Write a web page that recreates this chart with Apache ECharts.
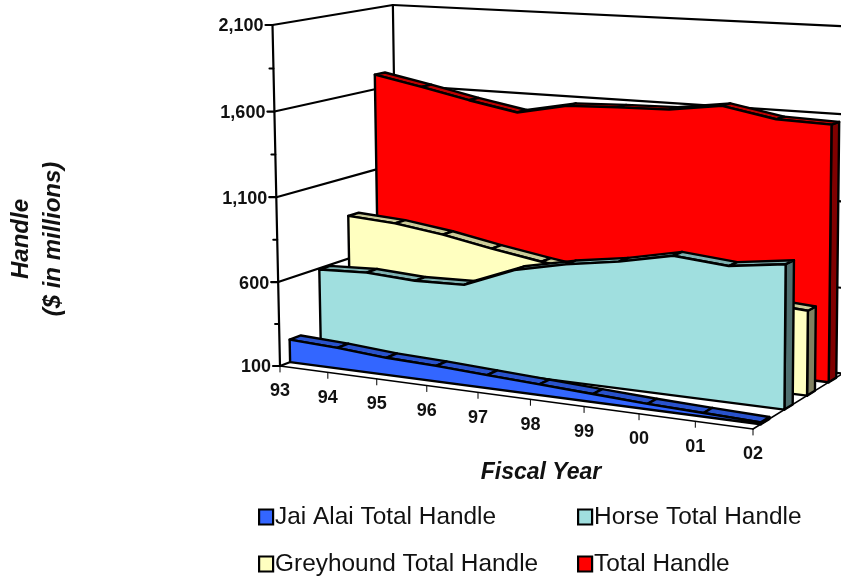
<!DOCTYPE html>
<html>
<head>
<meta charset="utf-8">
<style>html,body{margin:0;padding:0;background:#fff}#c{width:841px;height:581px}</style>
<script src="https://cdn.jsdelivr.net/npm/echarts@6/dist/echarts.min.js"></script>
</head>
<body>
<div id="c"></div>
<script>
const years = ['93','94','95','96','97','98','99','00','01','02'];
const yTicks = [100,600,1100,1600,2100];
const yMinorTicks = [350,850,1350,1850];
const jaiAlai   = [235,222,200,190,175,160,145,130,120,110];
const horse     = [593,605,588,596,714,778,824,888,861,902];
const greyhound = [863,845,805,750,702,660,635,620,600,580];
const totalH    = [1690,1633,1571,1517,1577,1588,1595,1637,1581,1572];

const FONT = '"Liberation Sans", Arial, sans-serif';
const G = {left:272, top:25, width:480, height:341};
// camera: projective map from the unit box (X years, Y value, Z depth) to the page
const CAM = {
  x:[280, 397.7, -12.95, 150.3],
  y:[366, 20.1, -341.5, -19.2],
  w:[1, -0.10, -0.02, 0.0823]
};
function project(pt, Z){
  const X=(pt[0]-G.left)/G.width, Y=(G.top+G.height-pt[1])/G.height;
  const d=(m)=>m[0]+m[1]*X+m[2]*Y+m[3]*Z;
  const w=d(CAM.w);
  return [d(CAM.x)/w, d(CAM.y)/w];
}
const line=(a,b,lw)=>({type:'line',shape:{x1:a[0],y1:a[1],x2:b[0],y2:b[1]},style:{stroke:'#000',lineWidth:lw,lineCap:'round'}});
const text=(s,x,y,align)=>({type:'text',style:{text:s,x:x,y:y,fill:'#111',font:'bold 18px '+FONT,align:align,verticalAlign:'middle',textAlign:align,textVerticalAlign:'middle'}});

function frameItem(params,api){
  if(params.dataIndex!==0) return null;
  const c=[];
  const last=years.length-1, vMin=yTicks[0], vMax=yTicks[yTicks.length-1];
  const P=(i,v,z)=>project(api.coord([i,v]),z);
  // walls
  yTicks.forEach(v=>{
    c.push(line(P(0,v,0),P(0,v,1),2.2));
    c.push(line(P(0,v,1),P(last,v,1),2.2));
  });
  c.push(line(P(0,vMin,1),P(0,vMax,1),2.2));
  c.push(line(P(0,vMin,0),P(last,vMin,0),1.5));
  c.push(line(P(last,vMin,0),P(last,vMin,1),1.5));
  c.push(line(P(0,vMin,0),P(0,vMax,0),2.2));
  // value ticks and labels
  yTicks.forEach(v=>{
    const a=P(0,v,0);
    c.push(line([a[0]-7,a[1]],a,2.2));
    c.push(text(v.toLocaleString('en-US'),a[0]-9,a[1]+1.5,'right'));
  });
  yMinorTicks.forEach(v=>{
    const a=P(0,v,0);
    c.push(line([a[0]-4,a[1]],a,2));
  });
  // year ticks and labels
  years.forEach((y,i)=>{
    const a=P(i,vMin,0);
    c.push(line(a,[a[0],a[1]+6],1));
    c.push(text(y,a[0],a[1]+25.5,'center'));
  });
  return {type:'group',children:c};
}

function ribbon(values,z0,z1,colors){
  return function(params,api){
    if(params.dataIndex!==0) return null;
    const c=[], n=values.length, base=yTicks[0];
    const P=(i,v,z)=>project(api.coord([i,v]),z);
    const sty=(fill)=>({fill:fill,stroke:'#000',lineWidth:2.4,lineJoin:'round'});
    c.push({type:'polygon',shape:{points:[P(n-1,values[n-1],z0),P(n-1,values[n-1],z1),P(n-1,base,z1),P(n-1,base,z0)]},style:sty(colors.side)});
    for(let i=0;i<n-1;i++){
      c.push({type:'polygon',shape:{points:[P(i,values[i],z0),P(i,values[i],z1),P(i+1,values[i+1],z1),P(i+1,values[i+1],z0)]},style:sty(colors.top)});
    }
    const front=values.map((v,i)=>P(i,v,z0));
    front.push(P(n-1,base,z0));front.push(P(0,base,z0));
    c.push({type:'polygon',shape:{points:front},style:sty(colors.front)});
    return {type:'group',children:c};
  };
}
const dataOf=a=>a.map((v,i)=>[i,v]);
function ser(name,values,z0,z1,colors){
  return {name:name,type:'custom',coordinateSystem:'cartesian2d',clip:false,silent:true,
    encode:{x:0,y:1},itemStyle:{color:colors.front},data:dataOf(values),renderItem:ribbon(values,z0,z1,colors)};
}
const legendBase={orient:'vertical',top:505,height:120,padding:0,itemGap:23,itemWidth:14,itemHeight:15,
  itemStyle:{borderColor:'#000',borderWidth:2.2},icon:'rect',selectedMode:false,
  textStyle:{fontFamily:FONT,fontSize:24.4,color:'#111',padding:[0,0,0,-3]}};
const chart=echarts.init(document.getElementById('c'),null,{renderer:'canvas'});
chart.setOption({
  animation:false,
  backgroundColor:'#fff',
  grid:{left:G.left,top:G.top,width:G.width,height:G.height,containLabel:false},
  xAxis:{type:'category',data:years,boundaryGap:false,show:false},
  yAxis:{type:'value',min:100,max:2100,show:false},
  legend:[
    Object.assign({},legendBase,{data:['Jai Alai Total Handle','Greyhound Total Handle'],left:258}),
    Object.assign({},legendBase,{data:['Horse Total Handle','Total Handle'],left:577})
  ],
  graphic:[
    {type:'text',x:541,y:473,style:{text:'Fiscal Year',font:'italic bold 23px '+FONT,fill:'#111',align:'center',verticalAlign:'middle'}},
    {type:'text',x:37,y:239,rotation:Math.PI/2,style:{text:'Handle\n($ in millions)',font:'italic bold 24px '+FONT,lineHeight:32,fill:'#111',align:'center',verticalAlign:'middle'}}
  ],
  series:[
    {name:'frame',type:'custom',coordinateSystem:'cartesian2d',clip:false,silent:true,encode:{x:0,y:1},data:[[0,100]],renderItem:frameItem},
    ser('Total Handle',totalH,0.83,0.92,{front:'#FF0000',top:'#C00000',side:'#800000'}),
    ser('Greyhound Total Handle',greyhound,0.58,0.67,{front:'#FFFFC0',top:'#CCCC99',side:'#808060'}),
    ser('Horse Total Handle',horse,0.33,0.42,{front:'#A0DFDF',top:'#7FB2B2',side:'#507070'}),
    ser('Jai Alai Total Handle',jaiAlai,0.08,0.17,{front:'#3366FF',top:'#2952CC',side:'#1A3380'})
  ]
});
</script>
</body>
</html>
